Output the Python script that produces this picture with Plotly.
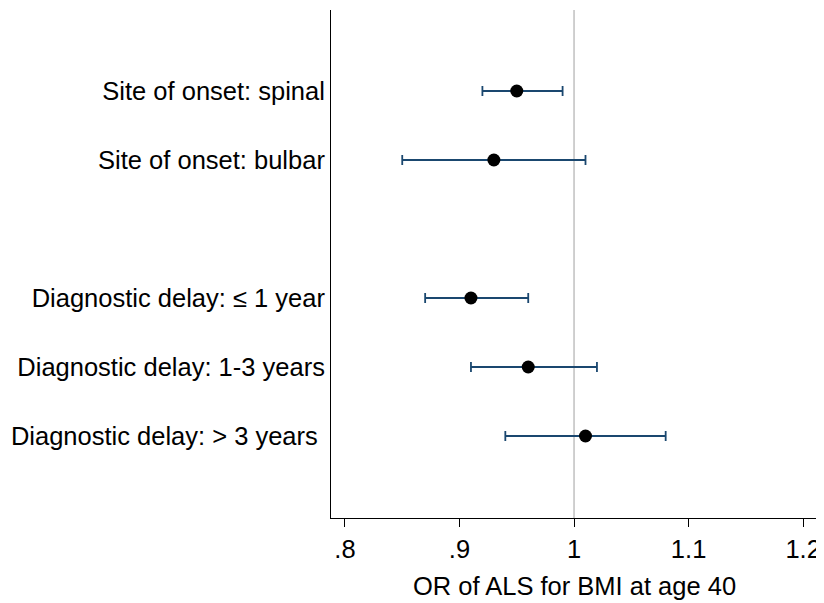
import plotly.graph_objects as go

labels = ["Site of onset: spinal", "Site of onset: bulbar",
          "Diagnostic delay: \u2264 1 year", "Diagnostic delay: 1-3 years",
          "Diagnostic delay: > 3 years\u00a0"]
positions = [6, 5, 3, 2, 1]
or_est = [0.95, 0.93, 0.91, 0.96, 1.01]
ci_low = [0.92, 0.85, 0.87, 0.91, 0.94]
ci_high = [0.99, 1.01, 0.96, 1.02, 1.08]

x_ticks = [0.8, 0.9, 1.0, 1.1, 1.2]
x_ticklabels = [".8", ".9", "1", "1.1", "1.2"]

fig = go.Figure()
fig.add_shape(type="line", x0=1, x1=1, y0=0, y1=1, yref="paper", xref="x",
              line=dict(color="#c0c0c0", width=1.5), layer="below")
fig.add_trace(go.Scatter(
    x=or_est, y=positions, mode="markers",
    marker=dict(color="black", size=13),
    error_x=dict(type="data", symmetric=False,
                 array=[h - e for h, e in zip(ci_high, or_est)],
                 arrayminus=[e - l for e, l in zip(or_est, ci_low)],
                 color="#1a476f", thickness=1.8, width=5),
    showlegend=False, hoverinfo="skip"))

font = "Liberation Sans, Arial, sans-serif"
fig.update_layout(
    width=816, height=595,
    margin=dict(l=323, r=6, t=2, b=85, autoexpand=False),
    paper_bgcolor="white", plot_bgcolor="white",
    font=dict(family=font, size=25.5, color="black"),
    xaxis=dict(range=[0.7878, 1.213], tickvals=x_ticks, ticktext=x_ticklabels,
               ticks="outside", ticklen=8, tickwidth=1, tickcolor="black",
               showline=True, linecolor="black", linewidth=1,
               showgrid=False, zeroline=False, automargin=False,
               title=dict(text="OR of ALS for BMI at age 40", standoff=15,
                          font=dict(size=25.5)),
               tickfont=dict(size=25.5)),
    yaxis=dict(range=[-0.188, 7.174], tickvals=positions, ticktext=labels,
               ticks="", showline=True, linecolor="black", linewidth=1,
               showgrid=False, zeroline=False, ticklabelstandoff=0,
               automargin=False, tickfont=dict(size=25.5)),
)
fig.write_html("out.html")
